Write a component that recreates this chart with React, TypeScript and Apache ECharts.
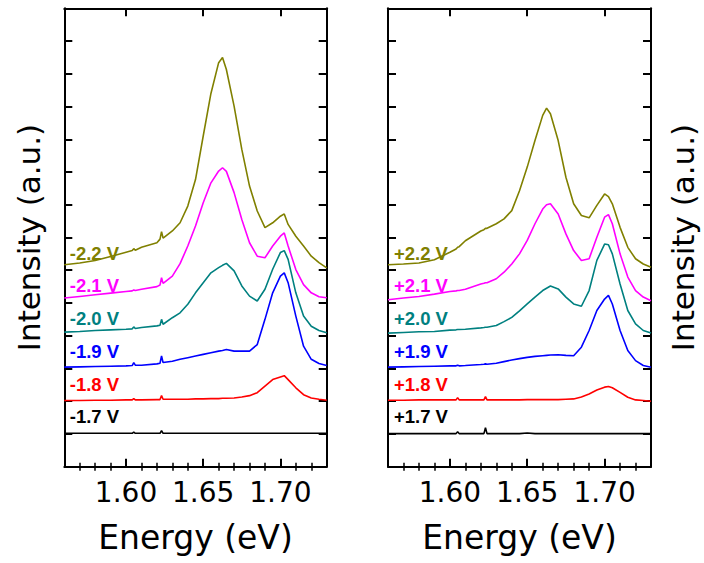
import React, { useEffect, useRef } from "react";
import * as echarts from "echarts";

// Photon energy grid (eV)
const energy = [1.56, 1.57, 1.58, 1.59, 1.60, 1.604, 1.605, 1.606, 1.61, 1.62, 1.622, 1.623, 1.624, 1.63, 1.635, 1.64, 1.645, 1.65, 1.655, 1.66, 1.6625, 1.665, 1.67, 1.675, 1.68, 1.685, 1.69, 1.695, 1.70, 1.7025, 1.705, 1.71, 1.715, 1.72, 1.725, 1.73];

// Left panel (negative bias) intensities, a.u., before vertical offset
const neg17 = [0.02, 0.02, 0.02, 0.02, 0.02, 0.02, 0.06, 0.02, 0.02, 0.02, 0.02, 0.10, 0.02, 0.02, 0.02, 0.02, 0.02, 0.02, 0.02, 0.02, 0.02, 0.02, 0.02, 0.02, 0.02, 0.02, 0.02, 0.02, 0.02, 0.02, 0.02, 0.02, 0.02, 0.02, 0.02, 0.02];
const neg18 = [0.02, 0.02, 0.03, 0.03, 0.04, 0.04, 0.08, 0.04, 0.04, 0.05, 0.05, 0.17, 0.06, 0.06, 0.06, 0.06, 0.07, 0.07, 0.08, 0.08, 0.09, 0.09, 0.10, 0.13, 0.17, 0.26, 0.46, 0.66, 0.74, 0.78, 0.66, 0.41, 0.20, 0.10, 0.06, 0.03];
const neg19 = [0.04, 0.05, 0.06, 0.07, 0.08, 0.09, 0.18, 0.10, 0.10, 0.14, 0.16, 0.38, 0.18, 0.22, 0.28, 0.33, 0.38, 0.43, 0.48, 0.53, 0.55, 0.58, 0.53, 0.53, 0.53, 0.73, 1.50, 2.31, 2.82, 2.92, 2.62, 1.60, 0.68, 0.28, 0.15, 0.09];
const neg20 = [0.11, 0.13, 0.16, 0.18, 0.20, 0.21, 0.27, 0.22, 0.25, 0.30, 0.32, 0.50, 0.35, 0.55, 0.70, 0.96, 1.31, 1.62, 1.92, 2.08, 2.15, 2.21, 1.98, 1.52, 1.21, 1.06, 1.42, 2.03, 2.54, 2.60, 2.33, 1.31, 0.60, 0.29, 0.16, 0.09];
const neg21 = [0.15, 0.20, 0.25, 0.30, 0.35, 0.37, 0.40, 0.38, 0.42, 0.50, 0.55, 0.77, 0.60, 0.82, 1.20, 1.74, 2.35, 3.06, 3.67, 4.03, 4.13, 4.02, 3.37, 2.55, 1.84, 1.43, 1.38, 1.74, 2.04, 2.14, 1.74, 1.02, 0.56, 0.31, 0.19, 0.16];
const neg22 = [0.17, 0.22, 0.30, 0.42, 0.55, 0.60, 0.66, 0.61, 0.70, 0.84, 0.95, 1.18, 0.98, 1.20, 1.45, 1.96, 2.77, 4.10, 5.40, 6.34, 6.50, 6.13, 5.01, 3.69, 2.57, 1.81, 1.30, 1.45, 1.65, 1.72, 1.40, 1.04, 0.74, 0.43, 0.23, 0.07];

// Right panel (positive bias) intensities, a.u., before vertical offset
const pos17 = [0.01, 0.01, 0.01, 0.01, 0.01, 0.01, 0.07, 0.01, 0.01, 0.01, 0.01, 0.19, 0.01, 0.01, 0.01, 0.01, 0.01, 0.03, 0.01, 0.01, 0.01, 0.01, 0.01, 0.01, 0.01, 0.01, 0.01, 0.01, 0.01, 0.01, 0.01, 0.01, 0.01, 0.01, 0.01, 0.01];
const pos18 = [0.03, 0.03, 0.04, 0.04, 0.04, 0.04, 0.11, 0.04, 0.04, 0.04, 0.04, 0.14, 0.04, 0.04, 0.04, 0.04, 0.04, 0.05, 0.05, 0.05, 0.05, 0.05, 0.05, 0.06, 0.07, 0.13, 0.22, 0.34, 0.43, 0.45, 0.41, 0.27, 0.12, 0.04, 0.02, 0.00];
const pos19 = [0.04, 0.05, 0.06, 0.07, 0.08, 0.08, 0.10, 0.08, 0.09, 0.12, 0.13, 0.14, 0.13, 0.16, 0.21, 0.26, 0.30, 0.34, 0.37, 0.39, 0.40, 0.41, 0.42, 0.40, 0.39, 0.65, 1.16, 1.77, 2.12, 2.23, 1.97, 1.16, 0.55, 0.24, 0.09, 0.04];
const pos20 = [0.08, 0.10, 0.12, 0.13, 0.17, 0.18, 0.19, 0.19, 0.20, 0.24, 0.25, 0.26, 0.26, 0.31, 0.43, 0.56, 0.76, 0.97, 1.18, 1.38, 1.45, 1.52, 1.43, 1.18, 0.97, 0.90, 1.38, 2.30, 2.80, 2.78, 2.50, 1.58, 0.77, 0.36, 0.16, 0.08];
const pos21 = [0.10, 0.15, 0.20, 0.27, 0.35, 0.37, 0.38, 0.38, 0.42, 0.58, 0.60, 0.62, 0.62, 0.74, 0.94, 1.19, 1.50, 1.91, 2.42, 2.87, 3.00, 3.03, 2.72, 2.11, 1.60, 1.30, 1.35, 2.01, 2.62, 2.70, 2.42, 1.50, 0.79, 0.38, 0.18, 0.07];
const pos22 = [0.17, 0.19, 0.22, 0.32, 0.55, 0.65, 0.70, 0.72, 0.90, 1.20, 1.24, 1.28, 1.28, 1.42, 1.57, 1.82, 2.43, 3.15, 3.96, 4.73, 4.95, 4.78, 3.96, 2.84, 2.03, 1.67, 1.60, 1.98, 2.33, 2.25, 2.03, 1.31, 0.70, 0.35, 0.19, 0.09];

const leftSeries = [neg17, neg18, neg19, neg20, neg21, neg22];
const rightSeries = [pos17, pos18, pos19, pos20, pos21, pos22];
const leftLabels = ["-1.7 V", "-1.8 V", "-1.9 V", "-2.0 V", "-2.1 V", "-2.2 V"];
const rightLabels = ["+1.7 V", "+1.8 V", "+1.9 V", "+2.0 V", "+2.1 V", "+2.2 V"];
const offsets = [1, 2, 3, 4, 5, 6];
const colors = ["#000000", "#ff0000", "#0000ff", "#008080", "#ff00ff", "#808000"];

const majorTicks = [1.6, 1.65, 1.7];
const minorTicks = [1.57, 1.58, 1.59, 1.61, 1.62, 1.63, 1.64, 1.66, 1.67, 1.68, 1.69, 1.71, 1.72];
const xMin = 1.56;
const xMax = 1.73;
const yMin = 0;
const yMax = 14;

const TITLE_FONT = "DejaVu Sans";

function buildAxesForGrid(gridIndex: number) {
  const base = {
    type: "value",
    gridIndex,
    min: xMin,
    max: xMax,
    splitLine: { show: false },
  };
  const xs: any[] = [
    {
      ...base,
      position: "bottom",
      offset: 0,
      axisLine: { show: true, onZero: false, lineStyle: { color: "#000", width: 2 } },
      axisTick: { show: true, inside: true, length: 8, customValues: majorTicks, lineStyle: { color: "#000", width: 2 } },
      axisLabel: {
        show: true,
        customValues: majorTicks,
        formatter: (v: number) => v.toFixed(2),
        color: "#000",
        fontFamily: TITLE_FONT,
        fontSize: 28,
        margin: 12,
      },
      name: "Energy (eV)",
      nameLocation: "middle",
      nameGap: 54,
      nameTextStyle: { color: "#000", fontFamily: TITLE_FONT, fontSize: 33 },
    },
    {
      ...base,
      position: "bottom",
      offset: 0,
      axisLine: { show: false },
      axisTick: { show: true, inside: true, length: 4, customValues: minorTicks, lineStyle: { color: "#000", width: 1.5 } },
      axisLabel: { show: false },
    },
    {
      ...base,
      position: "top",
      offset: 0,
      axisLine: { show: true, onZero: false, lineStyle: { color: "#000", width: 2 } },
      axisTick: { show: true, inside: true, length: 8, customValues: majorTicks, lineStyle: { color: "#000", width: 2 } },
      axisLabel: { show: false },
    },
    {
      ...base,
      position: "top",
      offset: 0,
      axisLine: { show: false },
      axisTick: { show: true, inside: true, length: 4, customValues: minorTicks, lineStyle: { color: "#000", width: 1.5 } },
      axisLabel: { show: false },
    },
  ];
  const yBase = {
    type: "value",
    gridIndex,
    min: yMin,
    max: yMax,
    interval: 1,
    splitLine: { show: false },
    axisLabel: { show: false },
    axisLine: { show: true, onZero: false, lineStyle: { color: "#000", width: 2 } },
    axisTick: { show: true, inside: true, length: 8, lineStyle: { color: "#000", width: 2 } },
  };
  const nameProps = (gap: number) => ({
    name: "Intensity (a.u.)",
    nameLocation: "middle",
    nameRotate: 90,
    nameGap: gap,
    nameTextStyle: { color: "#000", fontFamily: TITLE_FONT, fontSize: 31 },
  });
  const ys: any[] = [
    { ...yBase, position: "left", ...(gridIndex === 0 ? nameProps(20) : {}) },
    { ...yBase, position: "right", ...(gridIndex === 1 ? nameProps(16) : {}) },
  ];
  return { xs, ys };
}

export default function App() {
  const ref = useRef<HTMLDivElement>(null);

  useEffect(() => {
    if (!ref.current) return;
    const chart = echarts.init(ref.current, undefined, { renderer: "svg" });

    const a0 = buildAxesForGrid(0);
    const a1 = buildAxesForGrid(1);
    const xAxis = [...a0.xs, ...a1.xs];
    const yAxis = [...a0.ys, ...a1.ys];

    const makeSeries = (sets: number[][], labels: string[], xAxisIndex: number, yAxisIndex: number, labelX: number) =>
      sets.map((vals, k) => ({
        type: "line",
        name: labels[k],
        xAxisIndex,
        yAxisIndex,
        showSymbol: false,
        symbol: "none",
        silent: true,
        lineStyle: { color: colors[k], width: 1.6 },
        itemStyle: { color: colors[k] },
        data: energy.map((e, i) => [e, vals[i] + offsets[k]]),
        markPoint: {
          silent: true,
          symbol: "rect",
          symbolSize: 0.1,
          itemStyle: { color: "rgba(0,0,0,0)" },
          label: {
            show: true,
            position: "right",
            distance: 0,
            formatter: labels[k],
            color: colors[k],
            fontWeight: "bold",
            fontSize: 18.5,
            fontFamily: "Liberation Sans",
          },
          data: [{ coord: [labelX, offsets[k] + 0.52] }],
        },
      }));

    chart.setOption({
      animation: false,
      backgroundColor: "#ffffff",
      grid: [
        { left: 64.3, top: 8.3, width: 262.4, height: 458.4, containLabel: false },
        { left: 388, top: 8.3, width: 263, height: 458.4, containLabel: false },
      ],
      xAxis,
      yAxis,
      series: [
        ...makeSeries(leftSeries, leftLabels, 0, 0, 1.5635),
        ...makeSeries(rightSeries, rightLabels, 4, 2, 1.5638),
      ],
    });

    return () => chart.dispose();
  }, []);

  return (
    <div
      ref={ref}
      style={{ position: "fixed", left: 0, top: 0, width: 704, height: 563, background: "#fff" }}
    />
  );
}
